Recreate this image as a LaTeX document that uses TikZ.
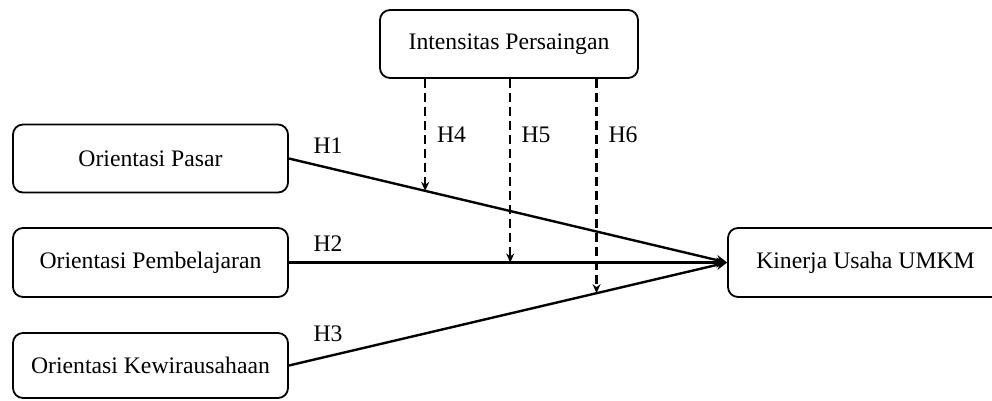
\documentclass[tikz,border=0pt]{standalone}
\usepackage{fontspec}
\setmainfont{Liberation Serif}
\usetikzlibrary{calc,arrows.meta}
\begin{document}
\begin{tikzpicture}[x=1pt,y=-1pt,
  box/.style={draw,line width=1.8pt,rounded corners=10pt,inner sep=0pt,
    font=\fontsize{23.7}{28}\selectfont},
  path/.style={line width=2.4pt,-{Stealth[length=11pt,width=10pt]}},
  mod/.style={line width=2.2pt,dash pattern=on 9pt off 5pt,-{Stealth[length=9pt,width=8pt]}},
  lab/.style={inner sep=0pt,font=\fontsize{23.7}{28}\selectfont}]
\useasboundingbox (0,0) rectangle (992,400);
\node[box,minimum width=275pt,minimum height=68pt] (pasar) at (150.5,158.5) {Orientasi Pasar};
\node[box,minimum width=275pt,minimum height=69pt] (belajar) at (150.5,262.5) {Orientasi Pembelajaran};
\node[box,minimum width=275pt,minimum height=65pt] (wira) at (150.5,365.5) {Orientasi Kewirausahaan};
\node[box,minimum width=258pt,minimum height=68pt] (intens) at (509,44) {Intensitas Persaingan};
\node[box,minimum width=275pt,minimum height=69pt] (kinerja) at (865.5,262.5) {Kinerja Usaha UMKM};
\draw[path] (pasar.east) -- (kinerja.west);
\draw[path] (belajar.east) -- (kinerja.west);
\draw[path] (wira.east) -- (kinerja.west);
\coordinate (m1) at ($(pasar.east)!0.311!(kinerja.west)$);
\coordinate (m2) at ($(belajar.east)!0.505!(kinerja.west)$);
\coordinate (m3) at ($(wira.east)!0.702!(kinerja.west)$);
\draw[mod] (m1 |- intens.south) -- (m1);
\draw[mod] (m2 |- intens.south) -- (m2);
\draw[mod] (m3 |- intens.south) -- (m3);
\node[lab] (h1) at (328,145.5) {H1};
\node[lab] (h2) at (328,243.5) {H2};
\node[lab] (h3) at (328,333.5) {H3};
\node[lab] (h4) at (451.5,135) {H4};
\node[lab] (h5) at (536,135) {H5};
\node[lab] (h6) at (623,135) {H6};
\end{tikzpicture}
\end{document}
